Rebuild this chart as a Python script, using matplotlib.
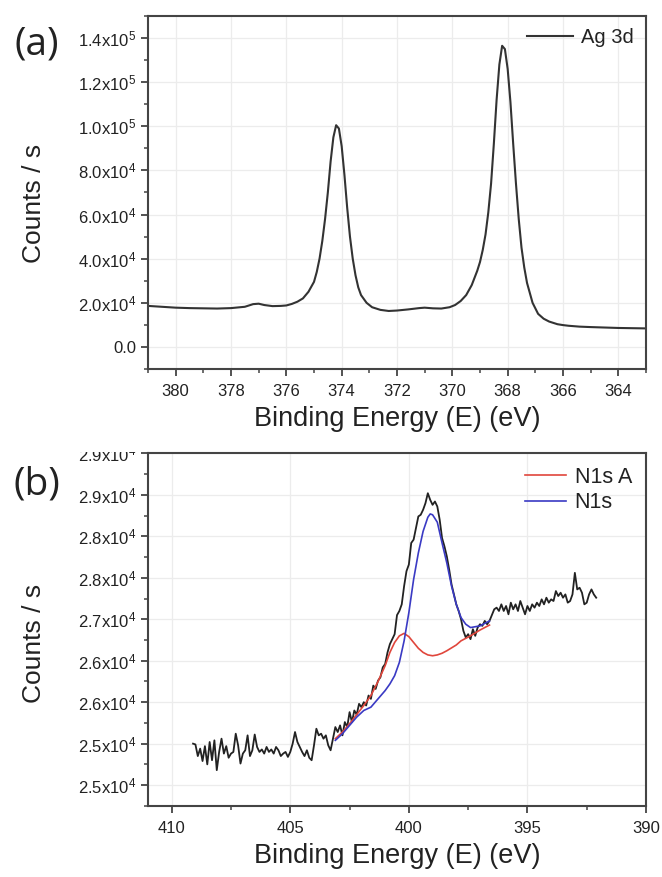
import matplotlib
matplotlib.use("Agg")
import matplotlib.pyplot as plt
from matplotlib.ticker import FixedLocator, FixedFormatter, MultipleLocator
from matplotlib.patches import Rectangle

plt.rcParams['font.family'] = ['Liberation Sans', 'DejaVu Sans']
plt.rcParams['mathtext.fontset'] = 'custom'
plt.rcParams['mathtext.rm'] = 'Liberation Sans'
plt.rcParams['mathtext.it'] = 'Liberation Sans'

# ---- panel (a): Ag 3d survey ----
ag_energy = [381.0, 380.5, 380.0, 379.5, 379.0, 378.5, 378.0, 377.5, 377.2, 377.0,
             376.8, 376.5, 376.2, 376.0, 375.8, 375.6, 375.4, 375.2, 375.0, 374.9,
             374.8, 374.7, 374.6, 374.5, 374.4, 374.3, 374.2, 374.1, 374.0, 373.9,
             373.8, 373.7, 373.6, 373.5, 373.4, 373.3, 373.1, 372.9, 372.6, 372.3,
             372.0, 371.6, 371.2, 371.0, 370.7, 370.4, 370.1, 369.9, 369.7, 369.5,
             369.3, 369.1, 369.0, 368.9, 368.8, 368.7, 368.6, 368.5, 368.4, 368.3,
             368.2, 368.1, 368.0, 367.9, 367.8, 367.7, 367.6, 367.5, 367.4, 367.3,
             367.1, 366.9, 366.7, 366.5, 366.2, 366.0, 365.8, 365.4, 365.0, 364.5,
             364.0, 363.5, 363.0]
ag_counts = [18600, 18200, 17800, 17600, 17500, 17400, 17600, 18200, 19400, 19600,
             19000, 18500, 18600, 18800, 19500, 20500, 22000, 25000, 29500, 34000,
             40000, 48000, 58000, 70000, 84000, 95000, 100500, 99000, 91000, 78000,
             63000, 50000, 40000, 32500, 27000, 23500, 20000, 18000, 16800, 16300,
             16500, 17000, 17600, 17800, 17500, 17400, 18000, 19000, 20800, 23500,
             28000, 34500, 38500, 44000, 51000, 61000, 74000, 92000, 112000, 128000,
             136500, 135000, 126000, 111000, 92000, 74000, 58000, 45000, 36000, 29000,
             20000, 15000, 12800, 11500, 10300, 9900, 9600, 9200, 9000, 8800,
             8600, 8500, 8400]

a_yticks = [0, 20000, 40000, 60000, 80000, 100000, 120000, 140000]
a_ylabels = ['0.0', '2.0x10$^4$', '4.0x10$^4$', '6.0x10$^4$', '8.0x10$^4$',
             '1.0x10$^5$', '1.2x10$^5$', '1.4x10$^5$']
a_xticks = [380, 378, 376, 374, 372, 370, 368, 366, 364]

# ---- panel (b): N1s ----
n_energy = [409.1, 409.0, 408.9, 408.8, 408.7, 408.6, 408.5, 408.4, 408.3, 408.2,
            408.1, 408.0, 407.9, 407.8, 407.7, 407.6, 407.5, 407.4, 407.3, 407.2,
            407.1, 407.0, 406.9, 406.8, 406.7, 406.6, 406.5, 406.4, 406.3, 406.2,
            406.1, 406.0, 405.9, 405.8, 405.7, 405.6, 405.5, 405.4, 405.3, 405.2,
            405.1, 405.0, 404.9, 404.8, 404.7, 404.6, 404.5, 404.4, 404.3, 404.2,
            404.1, 404.0, 403.9, 403.8, 403.7, 403.6, 403.5, 403.4, 403.3, 403.2,
            403.1, 403.0, 402.9, 402.8, 402.7, 402.6, 402.5, 402.4, 402.3, 402.2,
            402.1, 402.0, 401.9, 401.8, 401.7, 401.6, 401.5, 401.4, 401.3, 401.2,
            401.1, 401.0, 400.9, 400.8, 400.7, 400.6, 400.5, 400.4, 400.3, 400.2,
            400.1, 400.0, 399.9, 399.8, 399.7, 399.6, 399.5, 399.4, 399.3, 399.2,
            399.1, 399.0, 398.9, 398.8, 398.7, 398.6, 398.5, 398.4, 398.3, 398.2,
            398.1, 398.0, 397.9, 397.8, 397.7, 397.6, 397.5, 397.4, 397.3, 397.2,
            397.1, 397.0, 396.9, 396.8, 396.7, 396.6, 396.5, 396.4, 396.3, 396.2,
            396.1, 396.0, 395.9, 395.8, 395.7, 395.6, 395.5, 395.4, 395.3, 395.2,
            395.1, 395.0, 394.9, 394.8, 394.7, 394.6, 394.5, 394.4, 394.3, 394.2,
            394.1, 394.0, 393.9, 393.8, 393.7, 393.6, 393.5, 393.4, 393.3, 393.2,
            393.1, 393.0, 392.9, 392.8, 392.7, 392.6, 392.5, 392.4, 392.3, 392.2,
            392.1]
n_counts = [25500, 25490, 25350, 25440, 25290, 25470, 25250, 25520, 25300, 25540,
            25180, 25400, 25560, 25380, 25470, 25330, 25380, 25400, 25620, 25480,
            25260, 25380, 25420, 25600, 25350, 25420, 25610, 25460, 25400, 25430,
            25380, 25460, 25400, 25430, 25380, 25460, 25420, 25350, 25380, 25400,
            25340, 25400, 25500, 25640, 25520, 25460, 25400, 25350, 25420, 25330,
            25300, 25480, 25680, 25600, 25620, 25560, 25600, 25480, 25420, 25560,
            25700, 25640, 25720, 25600, 25760, 25700, 25880, 25760, 25900, 25850,
            25980, 25940, 26000, 25960, 26080, 26040, 26200, 26160, 26260, 26300,
            26420, 26460, 26600, 26700, 26760, 26820, 27050, 27100, 27180, 27400,
            27580, 27660, 27920, 27960, 28100, 28240, 28260, 28320, 28400, 28520,
            28440, 28380, 28420, 28360, 28200, 27980, 27880, 27760, 27600, 27420,
            27300, 27180, 27100, 27000, 26860, 26780, 26820, 26760, 26880, 26800,
            26900, 26940, 26920, 26980, 26940, 26980, 27050, 27120, 27140, 27100,
            27180, 27100, 27160, 27060, 27200, 27120, 27180, 27100, 27220, 27140,
            27060, 27160, 27100, 27180, 27140, 27200, 27160, 27240, 27180, 27260,
            27200, 27240, 27220, 27340, 27280, 27320, 27260, 27300, 27200, 27220,
            27300, 27560, 27360, 27380, 27320, 27180, 27200, 27300, 27360, 27300,
            27260]

fit_energy = [403.1, 402.8, 402.5, 402.2, 401.9, 401.6, 401.3, 401.0, 400.8, 400.6,
              400.4, 400.2, 400.0, 399.8, 399.6, 399.4, 399.2, 399.1, 399.0, 398.8,
              398.6, 398.4, 398.2, 398.0, 397.8, 397.6, 397.4, 397.2, 397.0, 396.8,
              396.6]
n1s_a = [25560, 25640, 25740, 25850, 25960, 26080, 26250, 26440, 26600, 26720,
         26800, 26830, 26790, 26720, 26650, 26600, 26570, 26565, 26560, 26570,
         26590, 26620, 26655, 26690, 26740, 26770, 26800, 26835, 26870, 26900,
         26930]
n1s = [25540, 25620, 25720, 25820, 25900, 25940, 26040, 26140, 26220, 26320,
       26480, 26740, 27080, 27480, 27800, 28060, 28230, 28270, 28260, 28170,
       27920, 27680, 27400, 27180, 27020, 26940, 26900, 26910, 26920, 26950,
       26980]

b_yticks = [25000, 25500, 26000, 26500, 27000, 27500, 28000, 28500, 29000]
b_ylabels = ['2.5x10$^4$', '2.5x10$^4$', '2.6x10$^4$', '2.6x10$^4$', '2.7x10$^4$',
             '2.8x10$^4$', '2.8x10$^4$', '2.9x10$^4$', '2.9x10$^4$']
b_xticks = [410, 405, 400, 395, 390]

TXT = '#222222'
SPINE = '#444444'


def style_axes(ax, ylab_y):
    for s in ax.spines.values():
        s.set_color(SPINE)
        s.set_linewidth(1.5)
    ax.tick_params(which='both', direction='out', colors=SPINE, labelcolor=TXT,
                   labelsize=12, top=False, right=False)
    ax.tick_params(which='major', length=5, width=1.3)
    ax.tick_params(axis='x', which='major', pad=6)
    ax.tick_params(which='minor', length=3, width=1.1)
    ax.grid(True, which='major', color='#ececec', linewidth=0.9)
    ax.set_axisbelow(True)
    ax.set_xlabel('Binding Energy (E) (eV)', fontsize=19.5, color=TXT, labelpad=5)
    ax.set_ylabel('Counts / s', fontsize=19, color=TXT)
    ax.yaxis.set_label_coords(-0.205, ylab_y)


fig = plt.figure(figsize=(6.62, 8.77), dpi=100)

# panel (a)
ax1 = fig.add_axes([148 / 662, 1 - 369 / 877, 498 / 662, 353 / 877])
ax1.plot(ag_energy, ag_counts, color='#333333', linewidth=1.5, label='Ag 3d')
ax1.set_xlim(381, 363)
ax1.set_ylim(-10000, 150000)
ax1.xaxis.set_major_locator(FixedLocator(a_xticks))
ax1.xaxis.set_minor_locator(MultipleLocator(1))
ax1.yaxis.set_major_locator(FixedLocator(a_yticks))
ax1.yaxis.set_major_formatter(FixedFormatter(a_ylabels))
ax1.yaxis.set_minor_locator(MultipleLocator(10000))
style_axes(ax1, 0.47)
ax1.legend(loc='upper right', frameon=False, fontsize=14.5, handlelength=2.3,
           borderaxespad=0.2, handletextpad=0.4, labelcolor=TXT)
fig.text(37 / 662, 1 - 45 / 877, '(a)', fontsize=28, color=TXT, ha='center', va='center',
         family=['Open Sans', 'DejaVu Sans'])

# panel (b)
ax2 = fig.add_axes([148 / 662, 1 - 806 / 877, 498 / 662, 353 / 877])
ax2.plot(n_energy, n_counts, color='#222222', linewidth=1.3)
ax2.plot(fit_energy, n1s_a, color='#e0463c', linewidth=1.2, label='N1s A')
ax2.plot(fit_energy, n1s, color='#3a3ac4', linewidth=1.2, label='N1s')
ax2.set_xlim(411, 390)
ax2.set_ylim(24748, 29005)
ax2.xaxis.set_major_locator(FixedLocator(b_xticks))
ax2.xaxis.set_minor_locator(MultipleLocator(2.5))
ax2.yaxis.set_major_locator(FixedLocator(b_yticks))
ax2.yaxis.set_major_formatter(FixedFormatter(b_ylabels))
ax2.yaxis.set_minor_locator(MultipleLocator(250))
style_axes(ax2, 0.46)
ax2.legend(loc='upper right', frameon=False, fontsize=15.5, handlelength=1.9,
           borderaxespad=0.25, handletextpad=0.4, labelspacing=0.2, labelcolor=TXT)
fig.text(37 / 662, 1 - 485 / 877, '(b)', fontsize=28, color=TXT, ha='center', va='center',
         family=['Open Sans', 'DejaVu Sans'])

# the top tick label of (b) is cut off in the original figure
fig.add_artist(Rectangle((60 / 662, 1 - 452 / 877), 84 / 662, 24 / 877,
                         transform=fig.transFigure, facecolor='white',
                         edgecolor='none', zorder=10))

fig.savefig('out.png', dpi=100)
